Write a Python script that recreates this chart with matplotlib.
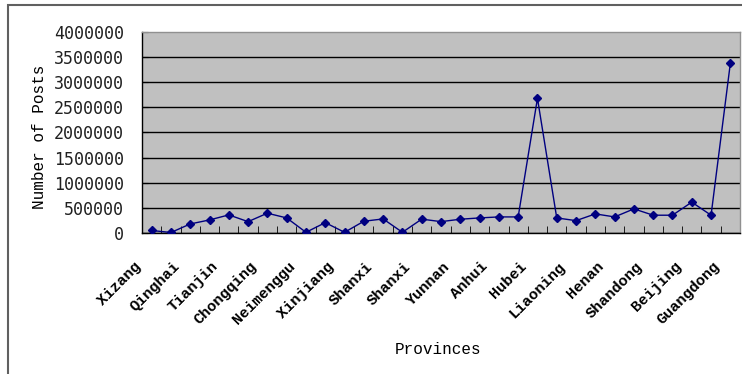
import matplotlib.pyplot as plt
import matplotlib.transforms as mtransforms
from matplotlib.patches import Rectangle
from matplotlib.ticker import FuncFormatter
import numpy as np

# 各省の投稿数(31省, 軸の下には1つおきに省名を表示)
posts = [50000, 10000, 180000, 260000, 360000, 226000, 394000, 300000, 14000, 206000,
         14000, 234000, 280000, 14000, 276000, 226000, 274000, 300000, 320000, 320000,
         2680000, 300000, 246000, 380000, 320000, 480000, 354000, 354000, 614000, 354000,
         3380000]
labels = ["Xizang", "Qinghai", "Tianjin", "Chongqing", "Neimenggu", "Xinjiang",
          "Shanxi", "Shanxi", "Yunnan", "Anhui", "Hubei", "Liaoning", "Henan",
          "Shandong", "Beijing", "Guangdong"]
y_ticks = [0, 500000, 1000000, 1500000, 2000000, 2500000, 3000000, 3500000, 4000000]

W, H = 742, 374
fig = plt.figure(figsize=(W / 100, H / 100), dpi=100)
ax = fig.add_axes([142 / W, 141 / H, 598 / W, 201 / H])
ax.set_facecolor("#c0c0c0")

x = np.arange(len(posts))
ax.plot(x, posts, color="#000080", lw=1.0, marker="D", ms=4.5, zorder=3)

ax.set_xlim(-0.5, len(posts) - 0.5)
ax.set_ylim(0, 4000000)

# y軸
ax.set_yticks(y_ticks)
ax.yaxis.set_major_formatter(FuncFormatter(lambda v, p: "%d" % v))
ax.tick_params(axis="y", direction="in", length=4, pad=13, labelsize=12)
for t in ax.get_yticklabels():
    t.set_fontfamily("DejaVu Sans Mono")
    t.set_color("#202020")
ax.grid(axis="y", color="black", lw=1)
ax.set_axisbelow(True)
ax.yaxis.get_gridlines()[-1].set_visible(False)

# x軸: 目盛りは区切り位置, 省名は1つおき
ax.set_xticks(x[::2])
ax.set_xticklabels(labels, rotation=45, ha="right", va="top",
                   fontfamily="Liberation Mono", fontweight="bold", fontsize=11)
ax.tick_params(axis="x", which="major", length=0, pad=19)
ax.set_xticks(np.arange(-0.5, len(posts)), minor=True)
ax.tick_params(axis="x", which="minor", direction="in", length=5, color="black")
shift = mtransforms.ScaledTranslation(-8 / 100, 0, fig.dpi_scale_trans)
for lab in ax.get_xticklabels():
    lab.set_transform(lab.get_transform() + shift)

for s in ["left", "bottom"]:
    ax.spines[s].set_color("black")
    ax.spines[s].set_linewidth(1)
for s in ["top", "right"]:
    ax.spines[s].set_color("#909090")
    ax.spines[s].set_linewidth(1)

fig.text(40 / W, 1 - 137 / H, "Number of Posts", rotation=90, ha="center", va="center",
         family="Liberation Mono", size=11.5)
fig.text(438 / W, 1 - 350 / H, "Provinces", ha="center", va="center",
         family="Liberation Mono", size=11.5)

# グラフ全体の枠
fig.patches.append(Rectangle((8 / W, -0.1), 2, (H - 5) / H + 0.1, transform=fig.transFigure,
                             fill=False, edgecolor="#606060", lw=1.5))

fig.savefig("out.png", dpi=100)
